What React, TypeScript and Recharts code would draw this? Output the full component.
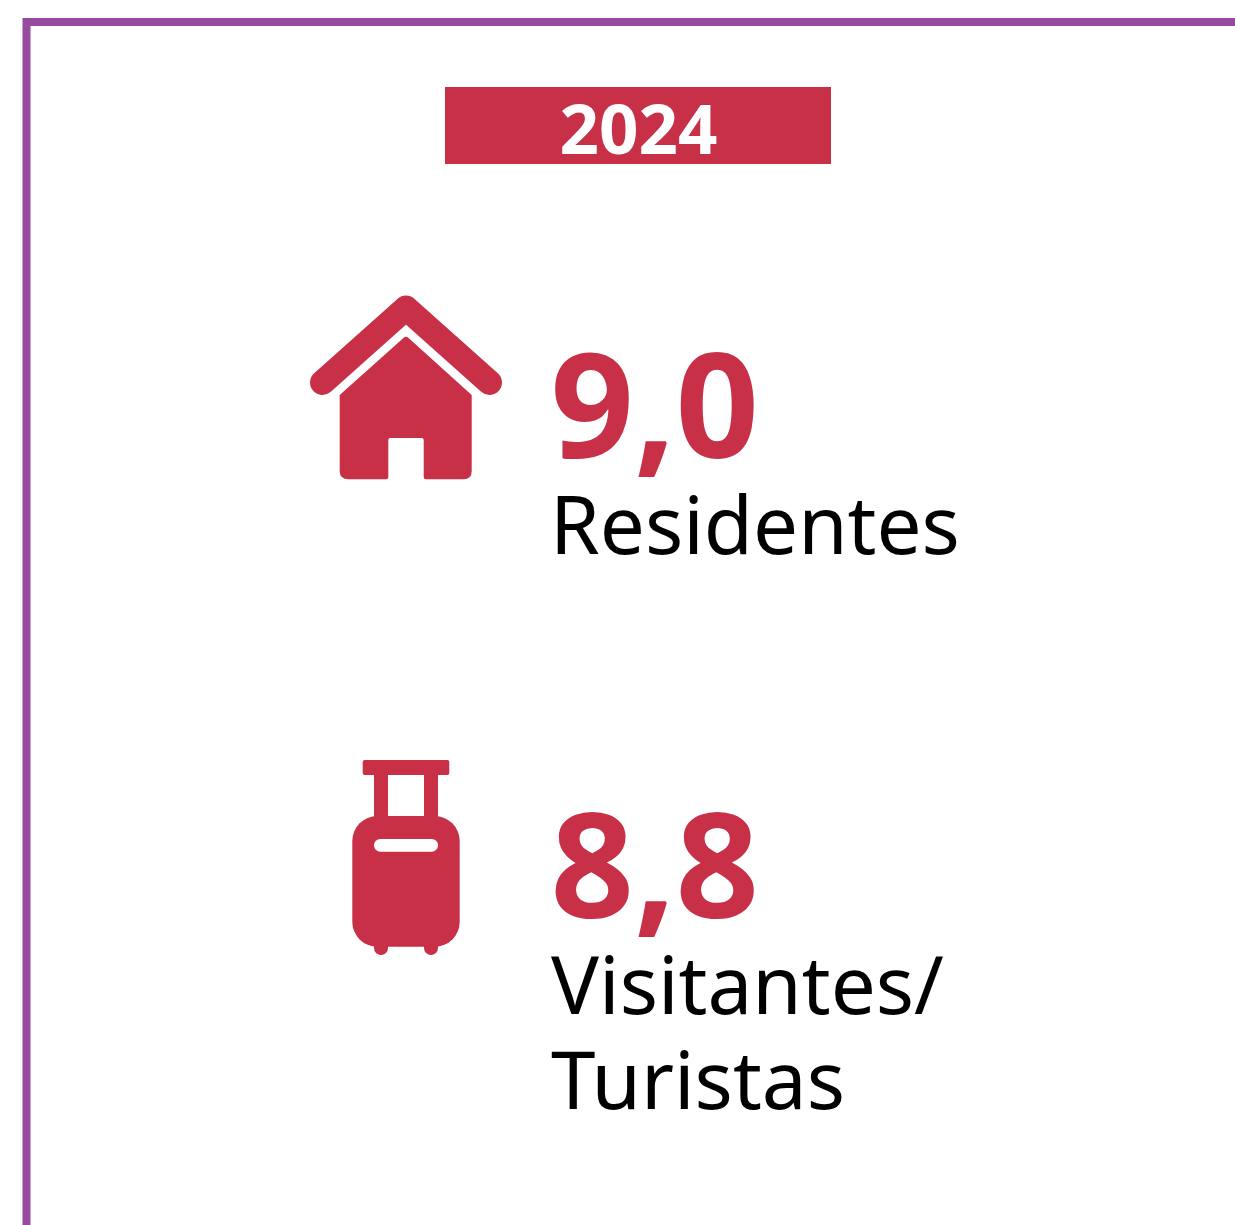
import { BarChart, Bar, XAxis, YAxis } from "recharts";

// datos
const anio = "2024";
const categorias = ["Residentes", "Visitantes/Turistas"];
const valores = [9.0, 8.8];
const etiquetas = [["Residentes"], ["Visitantes/", "Turistas"]];

const datos = categorias.map((categoria, i) => ({ categoria, valor: valores[i] }));

const ROJO = "#c83048";
const MORADO = "#974a9e";
const FUENTE = "'Noto Sans', 'Open Sans', sans-serif";

const formatoValor = (v: number) => v.toFixed(1).replace(".", ",");

// icono casa, centrado en x=0
const IconoCasa = () => (
  <g>
    <path
      d="M-83.5 -5.5 L0 -80 L83.5 -5.5"
      fill="none"
      stroke={ROJO}
      strokeWidth={25}
      strokeLinecap="round"
      strokeLinejoin="round"
    />
    <path
      d="M-2 -50.5 Q0 -52 2 -50.5 L65.7 7 V83 Q65.7 91.3 57.5 91.3 H20 Q17.7 91.3 17.7 89 V52 Q17.7 50 15.7 50 H-15.7 Q-17.7 50 -17.7 52 V89 Q-17.7 91.3 -20 91.3 H-57.5 Q-66.3 91.3 -66.3 83 V7 Z"
      fill={ROJO}
    />
  </g>
);

// icono maleta, centrado en x=0
const IconoMaleta = () => (
  <g>
    <rect x={-43.3} y={-88} width={86.6} height={15} rx={2} fill={ROJO} />
    <rect x={-32} y={-75} width={14} height={45} fill={ROJO} />
    <rect x={18} y={-75} width={14} height={45} fill={ROJO} />
    <rect x={-32} y={80} width={14} height={27} rx={7} fill={ROJO} />
    <rect x={18} y={80} width={14} height={27} rx={7} fill={ROJO} />
    <rect x={-53.7} y={-32} width={107.4} height={130.7} rx={25} fill={ROJO} />
    <rect x={-32} y={-9} width={64} height={12.7} rx={6.3} fill="#fff" />
  </g>
);

const iconos = [IconoCasa, IconoMaleta];
const xEtiqueta = [144, 145];

const Fila = (props: any) => {
  const { x, y, height, index, payload } = props;
  const Icono = iconos[index];
  return (
    <g transform={`translate(${x},${y + height / 2})`}>
      <Icono />
      <text x={144.5} y={70} fontFamily={FUENTE} fontSize={146} fontWeight={700} fill={ROJO}>
        {formatoValor(payload.valor)}
      </text>
      {etiquetas[index].map((linea, i) => (
        <text key={linea} x={xEtiqueta[index]} y={165.5 + i * 95.5} fontFamily={FUENTE} fontSize={80} fill="#000">
          {linea}
        </text>
      ))}
    </g>
  );
};

export default function App() {
  return (
    <div style={{ position: "absolute", left: 0, top: 0 }}>
      <BarChart
        width={1235}
        height={1225}
        data={datos}
        layout="vertical"
        margin={{ top: 158, right: 0, bottom: 147, left: 406 }}
      >
        <XAxis type="number" domain={[0, 10]} hide />
        <YAxis type="category" dataKey="categoria" hide />
        <path d="M26.5 1225 V22 H1235" fill="none" stroke={MORADO} strokeWidth={8} />
        <rect x={445} y={87} width={386} height={77} fill={ROJO} />
        <text x={638.5} y={154} textAnchor="middle" fontFamily={FUENTE} fontSize={69} fontWeight={700} fill="#fff">
          {anio}
        </text>
        <Bar dataKey="valor" isAnimationActive={false} shape={<Fila />} />
      </BarChart>
    </div>
  );
}
